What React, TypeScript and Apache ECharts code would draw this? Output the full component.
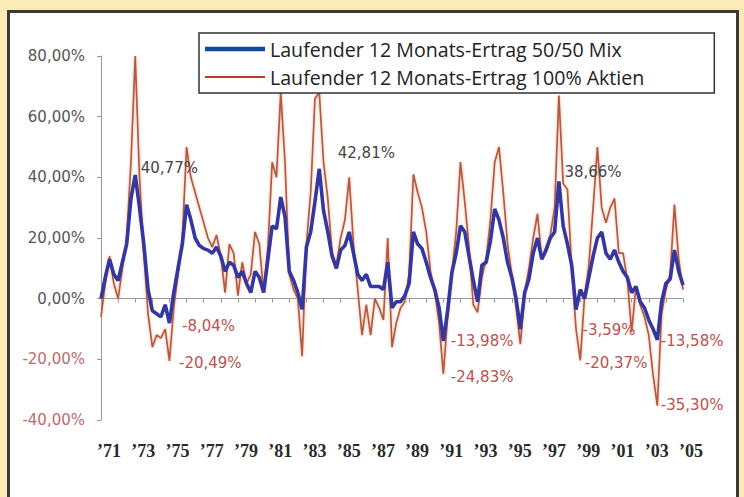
import React, { useEffect, useRef } from 'react';
import * as echarts from 'echarts';

// Quarterly categories from 1971 Q1 to 2005 Q1
const startYear = 1971;
const quarterCount = 137;
const categories: string[] = [];
for (let i = 0; i < quarterCount; i++) {
  categories.push(`${startYear + Math.floor(i / 4)}-Q${(i % 4) + 1}`);
}

const mixName = 'Laufender 12 Monats-Ertrag 50/50 Mix';
const stockName = 'Laufender 12 Monats-Ertrag 100% Aktien';

// rolling 12-month return, 50/50 mix (%)
const mix: number[] = [
  0, 7, 13, 8, 6, 12, 18, 33, 40.77, 30,
  18, 3, -4, -5, -6, -2, -8.04, 2, 10, 18,
  31, 26, 20, 17.5, 16.5, 16, 15, 17, 14, 9,
  12, 11, 7, 9, 5, 2, 9, 7, 2, 13,
  24, 23, 33.5, 27, 9, 6, 2, -3.5, 17, 22,
  32, 42.81, 29, 22, 14, 10, 16, 17.5, 22, 15,
  8, 6, 8, 4, 4, 4, 3, 12, -3, -1,
  -1, 1, 5, 22, 18, 16.5, 12, 7, 3, -3,
  -13.98, -4, 8.7, 15, 24, 22, 14, 6, -1, 11,
  12, 19, 29.6, 26, 20, 12, 7, 0, -10, 2,
  6.5, 15, 20, 13, 16, 20, 22, 38.66, 24, 18,
  11, -3.59, 3, 0, 7, 14, 20, 22, 15, 13,
  16, 12, 9, 7, 2, 4, -1, -3, -7, -10,
  -13.58, -1, 5, 6.5, 16, 9, 4.5,
];

// rolling 12-month return, 100% stocks (%)
const stocks: number[] = [
  -6, 5, 14, 5, 0, 10, 20, 45, 80, 40,
  15, -5, -16, -12, -13, -10, -20.49, -3, 8, 20,
  50, 40, 35, 30, 25, 20, 17, 21, 14, 2,
  18, 15, 1, 12, 5, 8, 22, 18, 2, 17,
  45, 40, 68, 45, 8, 3, 0, -19, 18, 35,
  66, 68, 45, 33, 15, 11, 20, 26, 40, 18,
  3, -12, -2, -12, 0, -3, -7, 20, -16, -8,
  -3, -1, 8, 41, 35, 30, 22, 9, 2, -8,
  -24.83, -6, 8.7, 22, 45, 32, 17, -2, -4.5, 7,
  13, 26, 45, 50, 35, 18, 8, -3, -15, 2,
  10, 20, 28, 13, 17, 21, 30, 67, 38, 36,
  10, -10, -20.37, 1, 11, 30, 50, 30, 25, 30,
  33, 15, 15, 6, -11, 4, -2, -6, -12, -25,
  -35.3, -5, 3, 8, 31, 13, 3,
];

// annotated quarters (indices into the series)
const mixNoteIdx = [8, 51, 107, 16, 80, 111, 130];
const stockNoteIdx = [16, 80, 112, 130];

// label offsets for the annotations (layout only)
const mixNoteOffset: Record<number, number[]> = {
  8: [6, -6], 51: [19, -15], 107: [6, -9], 16: [13, 3], 80: [8, 0], 111: [7, 21], 130: [4, 2],
};
const stockNoteOffset: Record<number, number[]> = {
  16: [10, 3], 80: [8, 4], 112: [5, 3], 130: [4, 0],
};

const fmtPct = (v: number) => v.toFixed(2).replace('.', ',') + '%';
const POS = '#444';
const NEG = '#c0504d';

function notes(series: number[], idx: number[], offs: Record<number, number[]>) {
  return idx.map((q) => ({
    coord: [categories[q], series[q]],
    value: series[q],
    label: {
      show: true,
      position: offs[q],
      align: 'left',
      verticalAlign: 'middle',
      color: series[q] < 0 ? NEG : POS,
    },
  }));
}

export default function App() {
  const ref = useRef<HTMLDivElement>(null);
  useEffect(() => {
    const chart = echarts.init(ref.current!, null, { renderer: 'svg' });
    const option: any = {
      animation: false,
      backgroundColor: '#FCEBB7',
      textStyle: { fontFamily: 'DejaVu Sans' },
      graphic: [
        {
          type: 'rect',
          z: -10,
          silent: true,
          shape: { x: 8.5, y: 11.5, width: 729, height: 500 },
          style: { fill: '#ffffff', stroke: '#3a3a3a', lineWidth: 3 },
        },
      ],
      grid: { left: 101, right: 61, top: 56, bottom: 77 },
      legend: {
        orient: 'vertical',
        left: 199,
        top: 33,
        selectedMode: false,
        itemWidth: 60,
        itemHeight: 14,
        itemGap: 8,
        backgroundColor: '#ffffff',
        borderColor: '#333',
        borderWidth: 1.5,
        padding: [6, 70, 6, 6],
        textStyle: { fontFamily: 'Open Sans', fontSize: 19.6, color: '#222', lineHeight: 20 },
        data: [
          { name: mixName, icon: 'path://M0 0H60V4.5H0Z', itemStyle: { color: '#0d4a9c' } },
          { name: stockName, icon: 'path://M0 0H60V2H0Z', itemStyle: { color: '#c0392b' } },
        ],
      },
      xAxis: [
        {
          type: 'category',
          data: categories,
          boundaryGap: false,
          position: 'bottom',
          axisLine: { show: false, onZero: false },
          axisTick: { show: false },
          splitLine: { show: false },
          axisLabel: {
            interval: 7,
            formatter: (v: string) => '\u2019' + v.slice(2, 4),
            fontFamily: 'Liberation Sans Narrow',
            fontWeight: 'bold',
            fontSize: 18,
            color: '#2a2a2a',
            margin: 22,
            padding: [0, 0, 0, 16],
          },
        },
        {
          type: 'category',
          data: categories,
          boundaryGap: false,
          position: 'bottom',
          axisLine: { show: true, onZero: true, lineStyle: { color: '#9a9a9a', width: 1 } },
          axisTick: { show: true, interval: 3, length: 4, lineStyle: { color: '#9a9a9a' } },
          axisLabel: { show: false },
          splitLine: { show: false },
        },
      ],
      yAxis: {
        type: 'value',
        min: -40,
        max: 80,
        interval: 20,
        axisLine: { show: true, lineStyle: { color: '#9a9a9a' } },
        axisTick: { show: true, length: 4, lineStyle: { color: '#9a9a9a' } },
        splitLine: { show: false },
        axisLabel: {
          formatter: (v: number) => fmtPct(v),
          color: (v: any) => (Number(v) < 0 ? '#c06a6a' : '#555'),
          fontSize: 15,
          margin: 16,
        },
      },
      series: [
        {
          name: stockName,
          type: 'line',
          data: stocks,
          symbol: 'none',
          z: 2,
          lineStyle: {
            color: '#b35a44',
            width: 1.7,
            shadowColor: 'rgba(235,150,110,0.7)',
            shadowBlur: 3,
          },
          itemStyle: { color: '#b35a44' },
          markPoint: {
            symbol: 'circle',
            symbolSize: 1,
            silent: true,
            itemStyle: { color: 'rgba(0,0,0,0)' },
            label: { fontSize: 15, formatter: (p: any) => fmtPct(p.value) },
            data: notes(stocks, stockNoteIdx, stockNoteOffset),
          },
        },
        {
          name: mixName,
          type: 'line',
          data: mix,
          symbol: 'none',
          z: 3,
          lineStyle: { color: '#33379f', width: 3.6 },
          itemStyle: { color: '#33379f' },
          markPoint: {
            symbol: 'circle',
            symbolSize: 1,
            silent: true,
            itemStyle: { color: 'rgba(0,0,0,0)' },
            label: { fontSize: 15, formatter: (p: any) => fmtPct(p.value) },
            data: notes(mix, mixNoteIdx, mixNoteOffset),
          },
        },
      ],
    };
    chart.setOption(option);
    return () => chart.dispose();
  }, []);
  return <div ref={ref} style={{ position: 'fixed', left: 0, top: 0, width: 744, height: 497 }} />;
}
